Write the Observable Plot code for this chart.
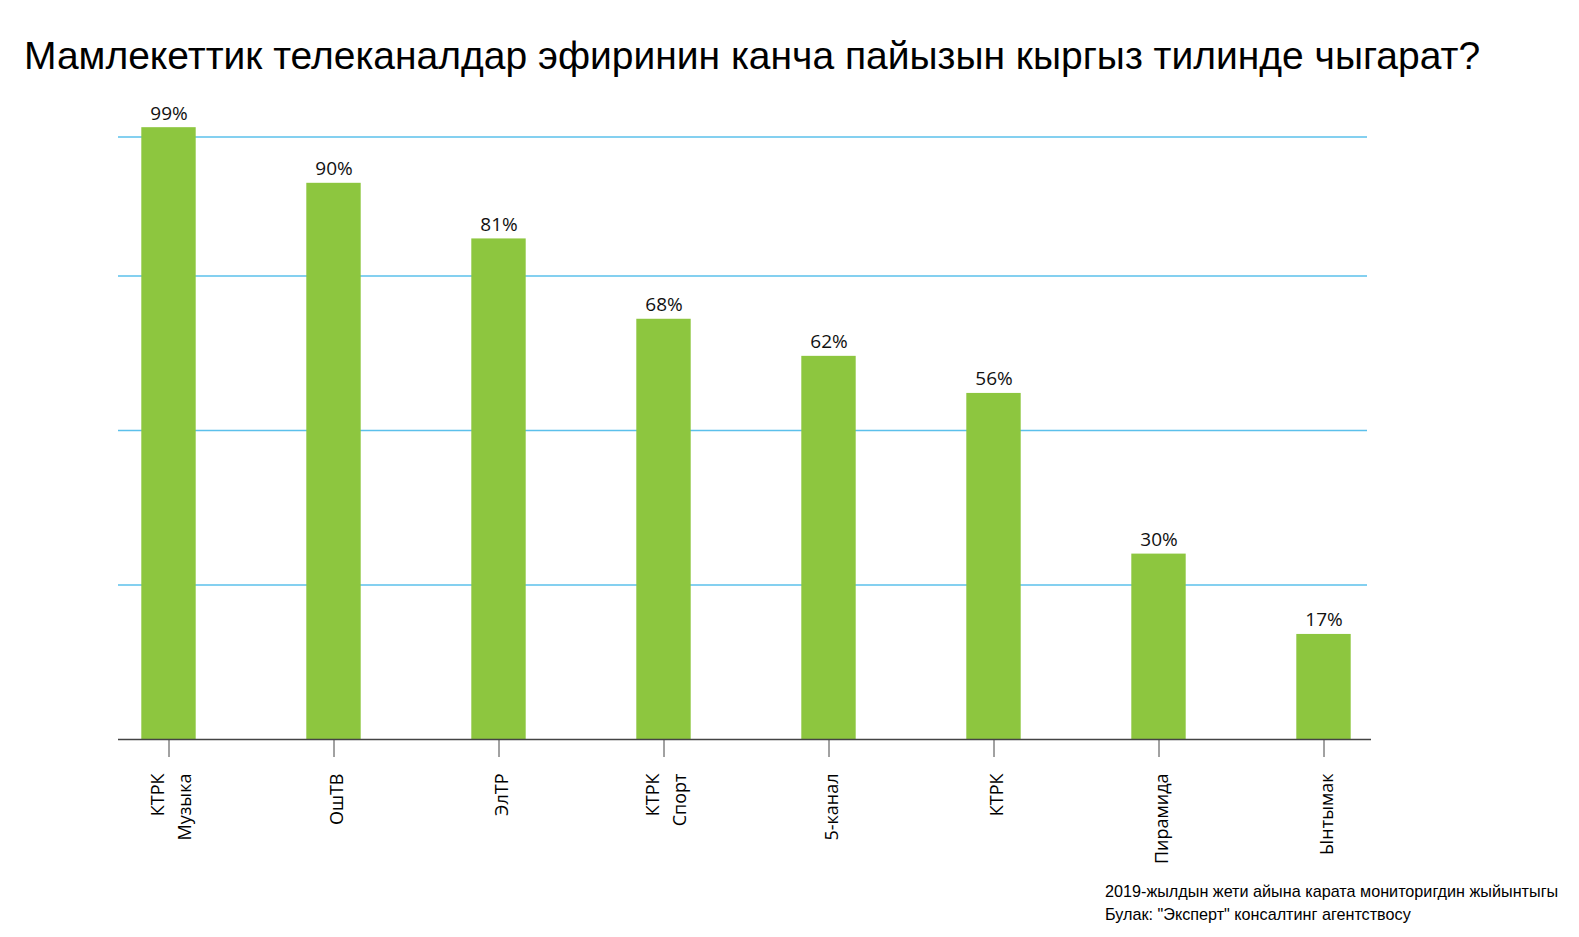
<!DOCTYPE html>
<html>
<head>
<meta charset="utf-8">
<script src="https://cdn.jsdelivr.net/npm/d3@7"></script>
<script src="https://cdn.jsdelivr.net/npm/@observablehq/plot@0.6"></script>
<style>
  html, body { margin: 0; padding: 0; background: #fff; }
  body { position: relative; width: 1579px; height: 937px; overflow: hidden; }
  #title { position: absolute; left: 24px; top: 37px; font-family: "Liberation Sans", Arial, sans-serif; font-size: 39px; line-height: 38px; color: #000; white-space: nowrap; }
  #chart { position: absolute; left: 0; top: 90px; }
  #note { position: absolute; left: 1105px; top: 880px; font-family: "Liberation Sans", Arial, sans-serif; font-size: 16.2px; line-height: 23px; color: #000; white-space: nowrap; }
</style>
</head>
<body>
<div id="title">Мамлекеттик телеканалдар эфиринин канча пайызын кыргыз тилинде чыгарат?</div>
<div id="chart"></div>
<div id="note">2019-жылдын жети айына карата мониторигдин жыйынтыгы<br>Булак: "Эксперт" консалтинг агентствосу</div>
<script>
const categories = ["КТРК\nМузыка", "ОшТВ", "ЭлТР", "КТРК\nСпорт", "5-канал", "КТРК", "Пирамида", "Ынтымак"];
const values = [99, 90, 81, 68, 62, 56, 30, 17];
const gridValues = [25, 50, 75, 97.5];

const data = categories.map((name, i) => ({name, value: values[i]}));

const chart = Plot.plot({
  width: 1579,
  height: 780,
  marginLeft: 83,
  marginRight: 171,
  marginTop: 31,
  marginBottom: 131,
  x: {domain: categories, padding: 0, label: null},
  y: {domain: [0, 100], axis: null},
  style: {fontFamily: "'Open Sans', sans-serif", fontSize: "18px", color: "#000", background: "#fff"},
  marks: [
    Plot.ruleY(gridValues, {stroke: "#5bc0eb", strokeWidth: 1.5, insetLeft: 35, insetRight: 41}),
    Plot.barY(data, {x: "name", y: "value", fill: "#8dc63f", insetLeft: 55.3, insetRight: 55.3}),
    Plot.ruleY([0], {stroke: "#444", strokeWidth: 1.5, insetLeft: 35, insetRight: 37}),
    Plot.text(data, {x: "name", y: "value", text: d => d.value + "%", lineAnchor: "bottom", dy: -8, fontSize: 19, fill: "#111"}),
    Plot.axisX({tickSize: 18, tickPadding: 16, tickRotate: -90, stroke: "#444", fill: "#000", lineHeight: 1.5, fontSize: 18, label: null})
  ]
});
document.getElementById("chart").appendChild(chart);
</script>
</body>
</html>
